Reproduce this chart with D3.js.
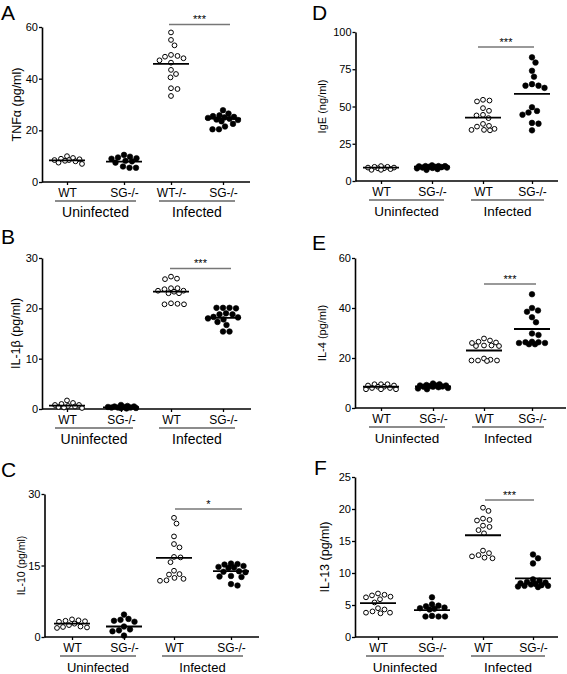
<!DOCTYPE html>
<html>
<head>
<meta charset="utf-8">
<script src="https://cdn.jsdelivr.net/npm/d3@7"></script>
<style>
  html, body { margin: 0; padding: 0; background: #fff; }
  svg { display: block; font-family: Arial, "Liberation Sans", sans-serif; }
</style>
</head>
<body>
<svg id="chart" width="567" height="674"></svg>
<script>
// ---------------- DATA ----------------
const groupNames = ["Uninfected", "Infected"];
const catLabelsA = ["WT", "SG-/-", "WT-/-", "SG-/-"];
const catLabels = ["WT", "SG-/-", "WT", "SG-/-"];
const filled = [false, true, false, true];

// A: TNFα (pg/ml)
const tnfTicks = [0, 20, 40, 60];
const tnfValues = [
  [8.5, 9.3, 10, 9, 8, 7, 7.5, 8.5, 8.8, 8.2],
  [10.5, 9.8, 9.5, 9.2, 9, 8.2, 8, 7.5, 6, 5.5, 5.5],
  [57.9, 55, 52.9, 49.2, 48.8, 48.5, 47.9, 47.1, 46.2, 43.4, 41.8, 40.5, 36.3, 36, 33.3],
  [27.8, 26.5, 25.8, 25.5, 25.2, 25, 24.8, 24.5, 24.2, 24, 23.5, 22.5, 21.5, 20.4, 20.4]
];
const tnfMeans = [8.4, 7.9, 45.7, 24.5];

// B: IL-1β (pg/ml)
const il1bTicks = [0, 10, 20, 30];
const il1bValues = [
  [1.7, 1.2, 1.0, 0.8, 0.6, 0.5, 0.3, 0.2, 0.8, 0.4],
  [0.8, 0.6, 0.5, 0.4, 0.3, 0.3, 0.2, 0.1, 0.4, 0.2, 0.5, 0.3],
  [26.3, 25.9, 25.8, 24.0, 24.0, 23.8, 23.5, 23.5, 23.3, 23.0, 23.0, 21.0, 20.9, 20.8, 20.8],
  [20.1, 20.1, 20.1, 20.0, 19.0, 18.8, 18.8, 18.3, 18.2, 18.0, 17.8, 17.3, 16.7, 15.4, 15.4]
];
const il1bMeans = [0.66, 0.33, 23.3, 18.1];

// C: IL-10 (pg/ml)
const il10Ticks = [0, 15, 30];
const il10Values = [
  [3.7, 3.5, 3.4, 3.3, 3.2, 2.8, 2.5, 2.2, 2.0, 1.9, 2.1],
  [4.7, 3.8, 3.6, 3.4, 3.2, 2.2, 1.6, 1.4, 1.2, 0.3],
  [25.0, 23.8, 21.1, 19.5, 18.8, 16.8, 16.7, 15.7, 13.9, 13.2, 13.1, 12.4, 12.2, 11.9, 11.8],
  [15.4, 15.3, 15.2, 14.9, 14.7, 14.6, 14.5, 13.8, 13.7, 13.6, 12.8, 12.7, 12.6, 11.1, 10.8]
];
const il10Means = [2.8, 2.2, 16.6, 13.8];

// D: IgE (ng/ml)
const igeTicks = [0, 25, 50, 75, 100];
const igeValues = [
  [9.5, 9, 8.5, 8, 7.5, 9, 10, 8.5, 9.5, 7.5],
  [10.5, 10, 10, 9.8, 9.5, 9.5, 9.3, 9, 9, 8.8, 8.5, 8, 7.5, 10],
  [54.5, 54, 53.4, 48.9, 47.1, 44.4, 44, 42.2, 38.3, 37, 36.5, 35, 34.3, 34.3, 34],
  [83, 79.5, 74, 70, 65, 64, 64, 62.5, 49.5, 47, 46, 44.5, 39, 38.5, 34]
];
const igeMeans = [9.0, 9.6, 42.6, 58.5];

// E: IL-4 (pg/ml)
const il4Ticks = [0, 20, 40, 60];
const il4Values = [
  [9.5, 9.5, 9.5, 9, 8.5, 8.5, 8, 7.5, 7.5, 7.5, 8, 9],
  [9.8, 9.5, 9.2, 9, 9, 8.8, 8.6, 8.5, 8.3, 8, 7.8, 7.5, 9, 8.5],
  [27.8, 27.0, 26.5, 26.2, 26.0, 25.0, 25.0, 24.8, 24.8, 19.8, 19.3, 19.0, 19.0, 18.8, 19.0],
  [45.5, 40, 39, 38.5, 36.3, 34.3, 29.8, 29.2, 26.5, 26.3, 26.3, 26, 26, 25.5, 25.5]
];
const il4Means = [8.5, 8.6, 23.0, 31.6];

// F: IL-13 (pg/ml)
const il13Ticks = [0, 5, 10, 15, 20, 25];
const il13Values = [
  [6.8, 6.6, 6.5, 6.3, 6.2, 5.9, 5.4, 4.5, 4.3, 4.0, 3.8, 3.7, 3.8],
  [6.2, 5.1, 4.9, 4.8, 4.6, 4.5, 4.4, 4.3, 3.3, 3.2, 3.2, 3.2],
  [20.2, 19.7, 18.5, 18.3, 18.2, 17.4, 17.2, 16.7, 16.2, 13.5, 13.1, 12.8, 12.6, 12.4, 12.3],
  [12.9, 12.3, 11.5, 9.0, 8.8, 8.6, 8.5, 8.4, 8.3, 8.2, 8.1, 8.0, 8.0, 7.9, 7.8]
];
const il13Means = [5.3, 4.2, 15.9, 9.15];

// ---------------- LAYOUT ----------------
const panels = [
  { letter: "A", lx: 1, ly: 19.5, title: "TNFα (pg/ml)", titleSize: 12.5, tx: 18,
    ticks: tnfTicks, values: tnfValues, means: tnfMeans, cats: catLabelsA, groupSize: 14,
    ax: 42, yTop: 27, y0: 182, xEnd: 250, cx: [67, 124, 171, 223],
    sig: "***", sx0: 169, sx1: 230, sy: 24.5 },
  { letter: "B", lx: 1, ly: 244, title: "IL-1β (pg/ml)", titleSize: 12.5, tx: 17,
    ticks: il1bTicks, values: il1bValues, means: il1bMeans, cats: catLabels, groupSize: 14,
    ax: 42, yTop: 258, y0: 409, xEnd: 251, cx: [67, 121, 171, 223],
    sig: "***", sx0: 170, sx1: 231, sy: 268.5 },
  { letter: "C", lx: 1, ly: 477, title: "IL-10 (pg/ml)", titleSize: 10.5, tx: 22,
    ticks: il10Ticks, values: il10Values, means: il10Means, cats: catLabels, groupSize: 13,
    ax: 44.5, yTop: 494, y0: 637, xEnd: 259, cx: [72, 124, 174, 231],
    sig: "*", sx0: 175, sx1: 242, sy: 509 },
  { letter: "D", lx: 312, ly: 19.5, title: "IgE  (ng/ml)", titleSize: 11, tx: 323,
    ticks: igeTicks, values: igeValues, means: igeMeans, cats: catLabels, groupSize: 13.5,
    ax: 355.5, yTop: 32, y0: 181, xEnd: 558, cx: [381, 432, 483, 532],
    sig: "***", sx0: 478, sx1: 534, sy: 47 },
  { letter: "E", lx: 312, ly: 250, title: "IL-4  (pg/ml)", titleSize: 11, tx: 323,
    ticks: il4Ticks, values: il4Values, means: il4Means, cats: catLabels, groupSize: 13.5,
    ax: 355, yTop: 258, y0: 408, xEnd: 566, cx: [381, 433, 484, 532],
    sig: "***", sx0: 484, sx1: 536, sy: 284 },
  { letter: "F", lx: 314, ly: 475, title: "IL-13 (pg/ml)", titleSize: 12.5, tx: 326,
    ticks: il13Ticks, values: il13Values, means: il13Means, cats: catLabels, groupSize: 13.5,
    ax: 355, yTop: 477, y0: 637, xEnd: 558, cx: [378, 432, 483, 533],
    sig: "***", sx0: 485, sx1: 534, sy: 500 }
];

const svg = d3.select("#chart");

// width-limited beeswarm placement
function swarm(vals, y, minDist, halfW) {
  const order = vals.map((v, i) => ({ v, i, py: y(v) })).sort((a, b) => a.py - b.py);
  const cands = d3.range(-halfW, halfW + 0.01, 0.5).sort((a, b) => Math.abs(a) - Math.abs(b) || b - a);
  const placed = [];
  const out = new Array(vals.length);
  order.forEach(p => {
    let best = null, bestScore = -1;
    for (const c of cands) {
      let mind = Infinity;
      for (const q of placed) {
        const dx = c - q.dx, dy = p.py - q.py;
        mind = Math.min(mind, Math.sqrt(dx * dx + dy * dy));
      }
      if (mind >= minDist) { best = c; break; }
      if (mind > bestScore) { bestScore = mind; best = c; }
    }
    placed.push({ dx: best, py: p.py });
    out[p.i] = best;
  });
  return out;
}

panels.forEach(p => {
  const g = svg.append("g");
  const y = d3.scaleLinear().domain([0, d3.max(p.ticks)]).range([p.y0, p.yTop]);
  const x = d3.scaleOrdinal().domain([0, 1, 2, 3]).range(p.cx);

  // panel letter
  g.append("text").attr("x", p.lx).attr("y", p.ly)
    .attr("font-size", 21).attr("fill", "#000").text(p.letter);

  // y axis
  const ya = g.append("g").attr("transform", `translate(${p.ax},0)`)
    .call(d3.axisLeft(y).tickValues(p.ticks).tickSize(3).tickSizeOuter(0).tickPadding(1));
  ya.select(".domain").attr("stroke", "#000").attr("stroke-width", 1.6);
  ya.selectAll(".tick line").attr("stroke", "#000").attr("stroke-width", 1.3);
  ya.selectAll(".tick text").attr("font-size", 11).attr("fill", "#000")
    .attr("font-family", "Arial, 'Liberation Sans', sans-serif");

  // x axis
  g.append("line").attr("x1", p.ax).attr("x2", p.xEnd).attr("y1", p.y0).attr("y2", p.y0)
    .attr("stroke", "#000").attr("stroke-width", 1.6);
  const xa = g.append("g").attr("transform", `translate(0,${p.y0})`)
    .call(d3.axisBottom(x).tickSize(3).tickPadding(3).tickFormat(i => p.cats[i]));
  xa.select(".domain").remove();
  xa.selectAll(".tick line").attr("stroke", "#000").attr("stroke-width", 1.3);
  xa.selectAll(".tick text").attr("font-size", 12).attr("fill", "#000")
    .attr("font-family", "Arial, 'Liberation Sans', sans-serif");

  // group underlines and labels
  groupNames.forEach((name, gi) => {
    const a = x(gi * 2), b = x(gi * 2 + 1);
    g.append("line").attr("x1", a - 12).attr("x2", b + 12)
      .attr("y1", p.y0 + 19).attr("y2", p.y0 + 19)
      .attr("stroke", "#666").attr("stroke-width", 1.3);
    g.append("text").attr("x", (a + b) / 2).attr("y", p.y0 + 35)
      .attr("text-anchor", "middle").attr("font-size", p.groupSize).attr("fill", "#000").text(name);
  });

  // y axis title
  g.append("text")
    .attr("transform", `translate(${p.tx},${(p.y0 + p.yTop) / 2}) rotate(-90)`)
    .attr("text-anchor", "middle").attr("dominant-baseline", "middle")
    .attr("font-size", p.titleSize).attr("fill", "#000").text(p.title);

  // significance bar
  g.append("line").attr("x1", p.sx0).attr("x2", p.sx1).attr("y1", p.sy).attr("y2", p.sy)
    .attr("stroke", "#777").attr("stroke-width", 1.3);
  g.append("text").attr("x", (p.sx0 + p.sx1) / 2).attr("y", p.sy - 1.5)
    .attr("text-anchor", "middle").attr("font-size", 11).attr("fill", "#000").text(p.sig);

  // points
  p.values.forEach((vals, gi) => {
    const offs = swarm(vals, y, 6.2, 15);
    const isFilled = filled[gi];
    g.append("g").selectAll("circle").data(vals).join("circle")
      .attr("cx", (d, i) => x(gi) + offs[i])
      .attr("cy", d => y(d))
      .attr("r", isFilled ? 2.8 : 2.4)
      .attr("fill", isFilled ? "#000" : "#fff")
      .attr("stroke", "#000")
      .attr("stroke-width", isFilled ? 0.6 : 1);
  });

  // mean lines
  g.append("g").selectAll("line").data(p.means).join("line")
    .attr("x1", (d, i) => x(i) - 18).attr("x2", (d, i) => x(i) + 18)
    .attr("y1", d => y(d)).attr("y2", d => y(d))
    .attr("stroke", "#000").attr("stroke-width", 1.8);
});
</script>
</body>
</html>
